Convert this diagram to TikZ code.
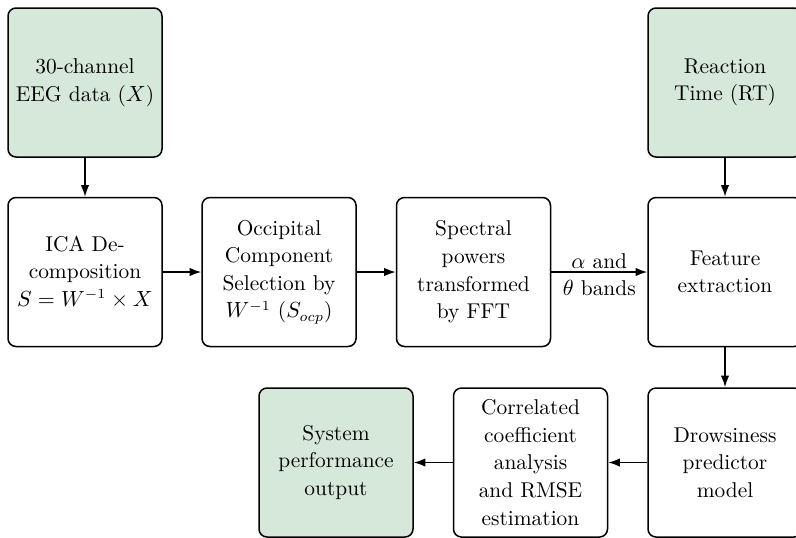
\documentclass[tikz,border=0pt]{standalone}
\usetikzlibrary{arrows.meta}
\definecolor{inputgreen}{RGB}{213,232,217}
\begin{document}
\begin{tikzpicture}[x=0.5pt,y=-0.5pt,
  block/.style={draw, line width=0.75pt, rounded corners=4pt,
    minimum width=77pt, minimum height=74.5pt, align=center,
    inner sep=2pt, font=\fontsize{10.7pt}{13.8pt}\selectfont},
  source/.style={block, fill=inputgreen},
  flow/.style={-{Latex[length=5.8pt,width=4.2pt]}, line width=0.75pt},
  lbl/.style={font=\fontsize{10.7pt}{13.6pt}\selectfont, inner sep=1.5pt}]
  \clip (0,0) rectangle (796,537);
  \fill[white] (0,0) rectangle (796,537);

  % top row: inputs
  \node[source] (eeg) at (85,82.5) {30-channel\\EEG data ($X$)};
  \node[source] (rt) at (725,82.5) {Reaction\\Time (RT)};

  % middle row: processing chain
  \node[block] (ica) at (85,272) {ICA De-\\composition\\$S = W^{-1} \times X$};
  \node[block] (occ) at (279,272) {Occipital\\Component\\Selection by\\$W^{-1}$ ($S_{ocp}$)};
  \node[block] (spec) at (473.5,272) {Spectral\\powers\\transformed\\by FFT};
  \node[block] (feat) at (725,272) {Feature\\extraction};

  % bottom row: prediction and evaluation
  \node[source] (sys) at (336,462.5) {System\\performance\\output};
  \node[block] (corr) at (530.5,462.5) {Correlated\\coefficient\\analysis\\and RMSE\\estimation};
  \node[block] (drow) at (725,462.5) {Drowsiness\\predictor\\model};

  \draw[flow] (eeg) -- (ica);
  \draw[flow] (rt) -- (feat);
  \draw[flow] (ica) -- (occ);
  \draw[flow] (occ) -- (spec);
  \draw[flow] (spec) -- node[lbl, above] {$\alpha$ and} node[lbl, below=2.5pt] {$\theta$ bands} (feat);
  \draw[flow] (feat) -- (drow);
  \draw[flow] (drow) -- (corr);
  \draw[flow] (corr) -- (sys);
\end{tikzpicture}
\end{document}
